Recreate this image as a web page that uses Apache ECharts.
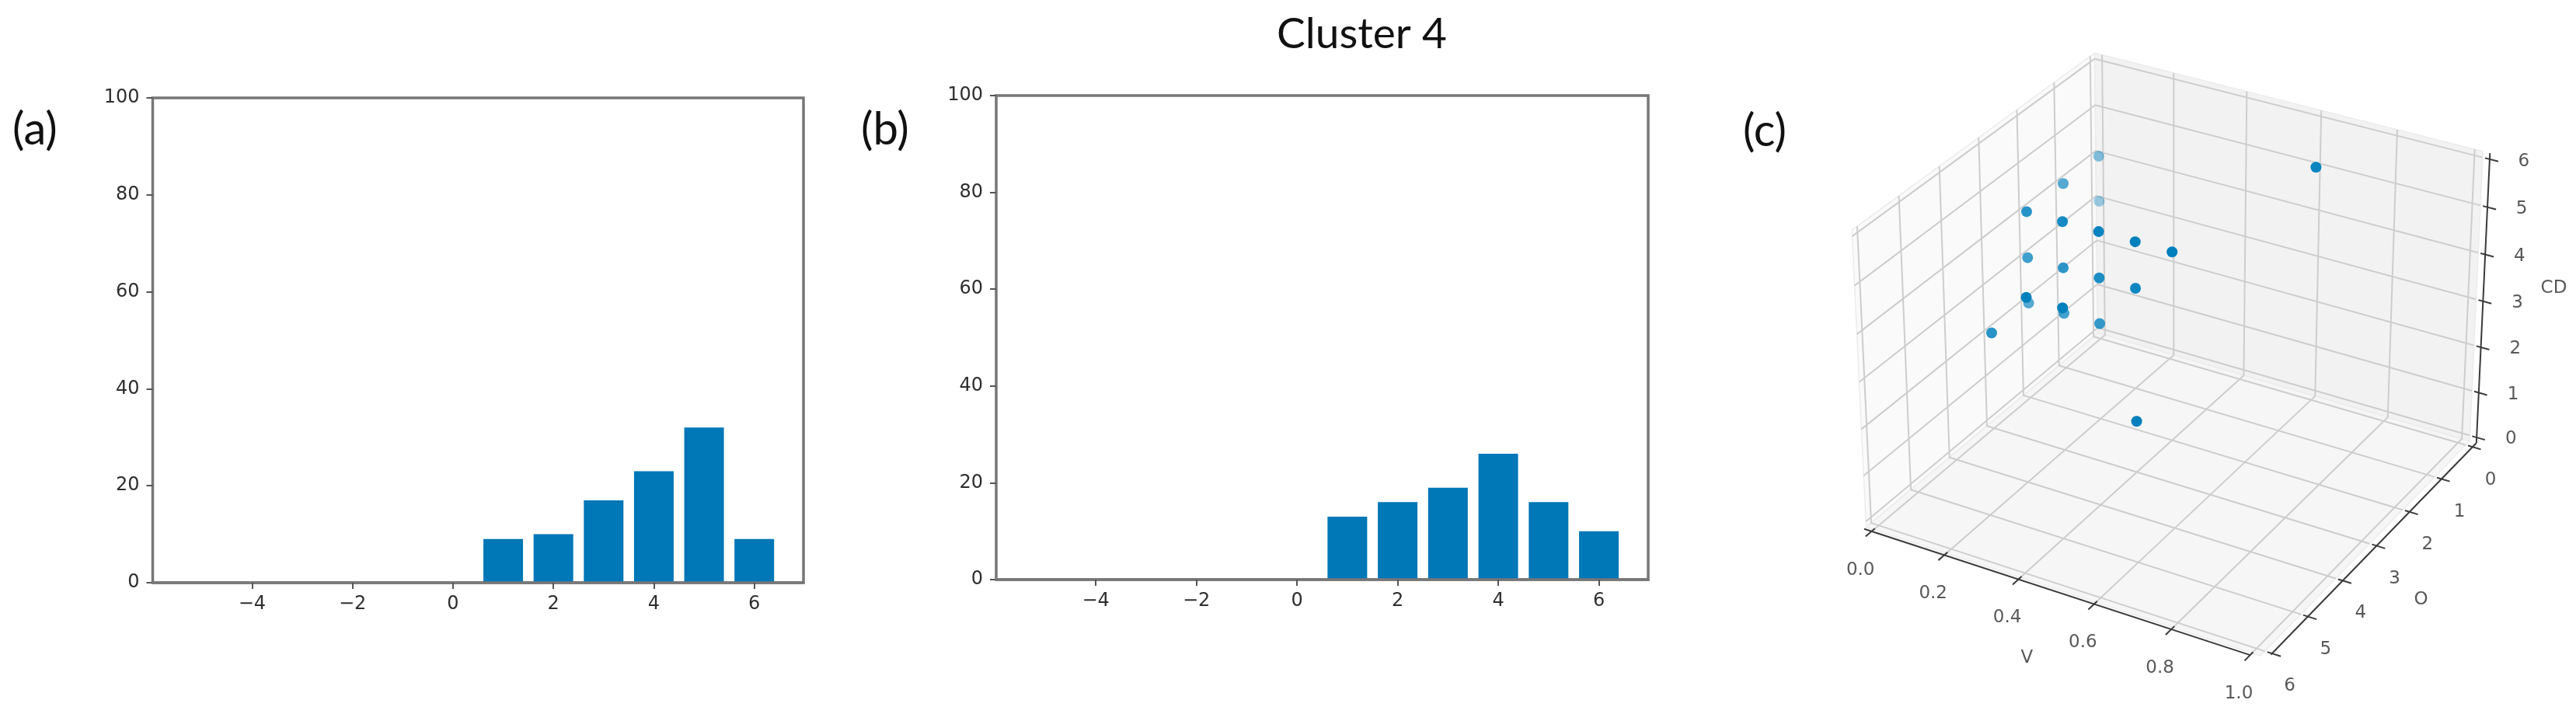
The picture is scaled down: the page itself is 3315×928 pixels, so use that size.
<!DOCTYPE html>
<html>
<head>
<meta charset="utf-8">
<title>Cluster 4</title>
<script src="https://cdn.jsdelivr.net/npm/echarts@6/dist/echarts.min.js"></script>
<style>
html, body { margin: 0; padding: 0; background: #fff; }
#main { width: 3315px; height: 928px; }
</style>
</head>
<body>
<div id="main"></div>
<script>
// bar panels
var barBins = [1, 2, 3, 4, 5, 6];
var barsA = [9, 10, 17, 23, 32, 9];
var barsB = [13, 16, 19, 26, 16, 10];
var barXTicks = [-4, -2, 0, 2, 4, 6];

// 3d panel, one entry per point
var pointV = [0, 0, 0, 0, 0.1, 0.2, 0.3, 0.4, 0, 0.1, 0.2, 0.3, 0.1, 0, 0.2, 0.1, 0.2, 0, 0.4, 0.6];
var pointO = [0, 1, 2, 0, 2, 2, 2, 2, 2, 2, 2, 2, 3, 2, 3, 2, 2, 3, 3, 0];
var pointCD = [4, 4, 4, 3, 4, 4, 4, 4, 3, 3, 3, 3, 3, 2, 3, 2, 2, 2, 1, 5];
var ticksV = [0, 0.2, 0.4, 0.6, 0.8, 1];
var ticksO = [0, 1, 2, 3, 4, 5, 6];
var ticksCD = [0, 1, 2, 3, 4, 5, 6];

var BLUE = '#0077b7';
var W = 3315, H = 928;

// same camera as a default mplot3d axes: elev 30, azim -60, dist 10, box 4:4:3
var BOX_XY = 1.1429, BOX_Z = 0.8572, DIST = 10;
var SCALE = 563.5, CX = 2797, CY = 437.5;

function view(v, o, c) {
    var dx = BOX_XY * (v - 0.5);
    var dy = BOX_XY * (0.5 - o / 6);   // O axis is inverted
    var dz = BOX_Z * (c / 6 - 0.5);
    var xv = 0.75 * dx + 0.4330 * dy;
    var yv = -0.2165 * dx + 0.375 * dy + 0.75 * dz;
    var zv = 0.4330 * dx - 0.75 * dy + 0.5 * dz;
    var s = DIST / (DIST - zv);
    return { x: xv * s, y: yv * s, depth: zv };
}
function project(v, o, c) {
    var p = view(v, o, c);
    return [p.x, p.y];
}

// panes stick out of the limits a little, like matplotlib does
var vMin = -1 / 48, vMax = 49 / 48, oMin = -0.125, oMax = 6.125, cMin = -0.125, cMax = 6.125;
// the drawn axes sit just outside the panes
var vEdge = vMax + 0.018, oEdge = oMax + 0.05;

function pathSeries(paths, color, width) {
    return {
        type: 'custom',
        xAxisIndex: 2,
        yAxisIndex: 2,
        silent: true,
        clip: false,
        data: paths.map(function (p, i) { return [p[0][0], p[0][1], i]; }),
        encode: { x: 0, y: 1 },
        renderItem: function (params, api) {
            var pts = paths[params.dataIndex].map(function (q) { return api.coord(q); });
            return {
                type: 'polyline',
                shape: { points: pts },
                style: { stroke: color, lineWidth: width, fill: null, lineJoin: 'round' }
            };
        }
    };
}

function paneSeries(corners, color) {
    return {
        type: 'custom',
        xAxisIndex: 2,
        yAxisIndex: 2,
        silent: true,
        clip: false,
        data: [[corners[0][0], corners[0][1]]],
        encode: { x: 0, y: 1 },
        renderItem: function (params, api) {
            return {
                type: 'polygon',
                shape: { points: corners.map(function (q) { return api.coord(q); }) },
                style: { fill: color, stroke: '#ececec', lineWidth: 1.5 }
            };
        }
    };
}

function labelSeries(rows, dx, dy) {
    return {
        type: 'scatter',
        xAxisIndex: 2,
        yAxisIndex: 2,
        silent: true,
        symbolSize: 0,
        clip: false,
        data: rows.map(function (r) { return { value: r.pos, name: r.text }; }),
        label: {
            show: true,
            position: 'inside',
            offset: [dx, dy],
            formatter: '{b}',
            fontFamily: 'DejaVu Sans',
            fontSize: 23,
            color: '#2e2e2e'
        }
    };
}

var gridPaths = [];
ticksV.forEach(function (v) {
    gridPaths.push([project(v, oMax, cMin), project(v, oMin, cMin), project(v, oMin, cMax)]);
});
ticksO.forEach(function (o) {
    gridPaths.push([project(vMax, o, cMin), project(vMin, o, cMin), project(vMin, o, cMax)]);
});
ticksCD.forEach(function (c) {
    gridPaths.push([project(vMin, oMax, c), project(vMin, oMin, c), project(vMax, oMin, c)]);
});

var axisPaths = [
    [project(vMin, oEdge, cMin), project(1, oEdge, cMin)],
    [project(vEdge, 6.03, cMin), project(vEdge, oMin, cMin)],
    [project(vEdge, oMin, cMin), project(vEdge, oMin, cMax)]
];
ticksV.forEach(function (v) {
    axisPaths.push([project(v, oEdge - 0.08, cMin), project(v, oEdge + 0.15, cMin)]);
});
ticksO.forEach(function (o) {
    axisPaths.push([project(vEdge - 0.012, o, cMin), project(vEdge + 0.022, o, cMin)]);
});
ticksCD.forEach(function (c) {
    axisPaths.push([project(vEdge - 0.012, oMin, c), project(vEdge + 0.022, oMin, c)]);
});

var points = pointV.map(function (v, i) {
    var p = view(v, pointO[i], pointCD[i]);
    // depth shading, far points fade out
    var alpha = Math.min(1, Math.max(0.3, 1 + (p.depth + 0.2) * 1.3));
    return { value: [p.x, p.y], itemStyle: { opacity: alpha } };
});

function barData(values) {
    return values.map(function (v, i) { return [barBins[i], v]; });
}

function barXAxis(index) {
    return {
        type: 'value',
        gridIndex: index,
        min: -5.98,
        max: 6.98,
        z: 5,
        splitLine: { show: false },
        axisLine: { show: true, onZero: false, lineStyle: { color: '#777', width: 3.5 } },
        axisTick: { show: true, length: 8, customValues: barXTicks, lineStyle: { color: '#555', width: 2 } },
        axisLabel: {
            customValues: barXTicks,
            margin: 16,
            fontFamily: 'DejaVu Sans',
            fontSize: 24,
            color: '#2e2e2e',
            formatter: function (v) { return String(v).replace('-', '\u2212'); }
        }
    };
}

function barYAxis(index) {
    return {
        type: 'value',
        gridIndex: index,
        min: 0,
        max: 100,
        interval: 20,
        splitLine: { show: false },
        axisLine: { show: false, onZero: false },
        axisTick: { show: true, length: 8, lineStyle: { color: '#555', width: 2 } },
        axisLabel: { margin: 17, fontFamily: 'DejaVu Sans', fontSize: 24, color: '#2e2e2e' }
    };
}

function barSeries(values, index) {
    return {
        type: 'bar',
        xAxisIndex: index,
        yAxisIndex: index,
        barWidth: 51,
        silent: true,
        itemStyle: { color: BLUE },
        data: barData(values)
    };
}

function panelTitle(text, left, top, size) {
    return {
        text: text,
        left: left,
        top: top,
        padding: 0,
        textStyle: { fontFamily: 'Lato', fontWeight: 'normal', fontSize: size, color: '#111' }
    };
}

var frame = { show: true, borderColor: '#777', borderWidth: 3.5, backgroundColor: 'transparent' };

var option = {
    animation: false,
    backgroundColor: '#fff',
    title: [
        panelTitle('Cluster 4', 1643, 17, 55),
        panelTitle('(a)', 16, 138, 58),
        panelTitle('(b)', 1108, 138, 58),
        panelTitle('(c)', 2243, 140, 58)
    ],
    grid: [
        Object.assign({ left: 196.5, top: 126, width: 837.5, height: 624 }, frame),
        Object.assign({ left: 1282, top: 123, width: 839, height: 623 }, frame),
        { left: 0, top: 0, width: W, height: H, show: false }
    ],
    xAxis: [
        barXAxis(0),
        barXAxis(1),
        { type: 'value', gridIndex: 2, show: false, min: -CX / SCALE, max: (W - CX) / SCALE }
    ],
    yAxis: [
        barYAxis(0),
        barYAxis(1),
        { type: 'value', gridIndex: 2, show: false, min: (CY - H) / SCALE, max: CY / SCALE }
    ],
    series: [
        barSeries(barsA, 0),
        barSeries(barsB, 1),
        // left wall, back wall, floor
        paneSeries([project(vMin, oMax, cMin), project(vMin, oMin, cMin), project(vMin, oMin, cMax), project(vMin, oMax, cMax)], '#fafafa'),
        paneSeries([project(vMin, oMin, cMin), project(vMax, oMin, cMin), project(vMax, oMin, cMax), project(vMin, oMin, cMax)], '#f2f2f2'),
        paneSeries([project(vMin, oMax, cMin), project(vMax, oMax, cMin), project(vMax, oMin, cMin), project(vMin, oMin, cMin)], '#f6f6f6'),
        pathSeries(gridPaths, '#cdcdcd', 2),
        pathSeries(axisPaths, '#3a3a3a', 2),
        {
            type: 'scatter',
            xAxisIndex: 2,
            yAxisIndex: 2,
            symbolSize: 14,
            silent: true,
            clip: false,
            itemStyle: { color: '#0080bd' },
            data: points
        },
        labelSeries(ticksV.map(function (v) {
            return { pos: project(v, oMax, cMin), text: v.toFixed(1) };
        }), -17, 52),
        labelSeries(ticksO.map(function (o) {
            return { pos: project(vMax, o, cMin), text: String(o) };
        }), 32, 45),
        labelSeries(ticksCD.map(function (c) {
            return { pos: project(vMax, oMin, c), text: String(c) };
        }), 53, 5),
        labelSeries([{ pos: project(0.5, oMax, cMin), text: 'V' }], -40, 88),
        labelSeries([{ pos: project(vMax, 3, cMin), text: 'O' }], 66, 72),
        labelSeries([{ pos: project(vMax, oMin, 3), text: 'CD' }], 100, -14)
    ]
};

var myChart = echarts.init(document.getElementById('main'));
myChart.setOption(option);
</script>
</body>
</html>
